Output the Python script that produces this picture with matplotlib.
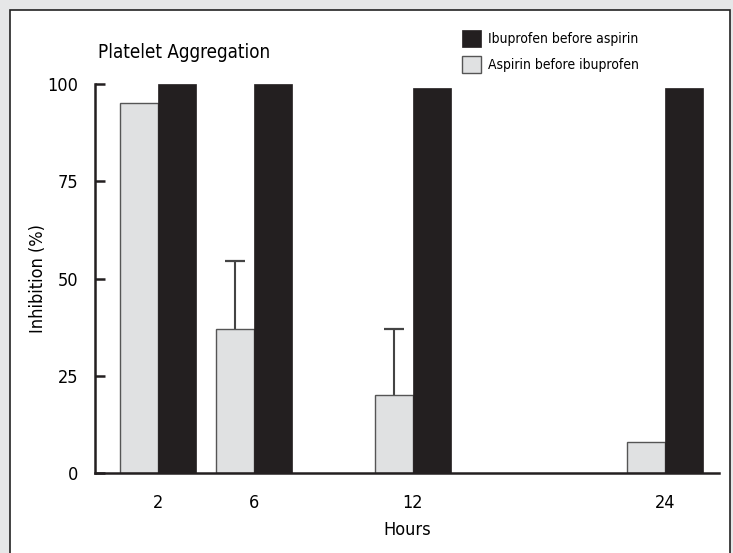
import matplotlib
matplotlib.use("Agg")
import matplotlib.pyplot as plt
from matplotlib.patches import Rectangle

plt.rcParams['font.family'] = ['DejaVu Sans']
plt.rcParams['font.stretch'] = 'condensed'

hours = ["2", "6", "12", "24"]
x_pos = [0, 1, 2.656, 5.281]
aspirin_first = [95, 37, 20, 8]
aspirin_err = [0, 17.5, 17, 0]
ibuprofen_first = [100, 100, 99, 99]
series_names = ["Ibuprofen before aspirin", "Aspirin before ibuprofen"]
y_ticks = [0, 25, 50, 75, 100]

fig = plt.figure(figsize=(7.33, 5.53), dpi=100)
fig.patch.set_facecolor('#e6e7e8')
fig.patches.append(Rectangle((10/733, -0.1), 0.982, 1.1 - 10/553,
                             transform=fig.transFigure, facecolor='white',
                             edgecolor='#222222', linewidth=1.2, zorder=-10))

ax = fig.add_axes([95/733, 1 - 473/553, (719 - 95)/733, (473 - 84)/553])
ax.set_facecolor('none')

w = 0.40
xa = [x - w/2 for x in x_pos]
xb = [x + w/2 for x in x_pos]
ax.bar(xa, aspirin_first, width=w, color='#e0e1e2', edgecolor='#555555',
       linewidth=1.0, zorder=2, label=series_names[1])
ax.bar(xb, ibuprofen_first, width=w, color='#231f20', edgecolor='#231f20',
       linewidth=0.5, zorder=2, label=series_names[0])
for x, v, e in zip(xa, aspirin_first, aspirin_err):
    if e > 0:
        ax.vlines(x, v, v + e, color='#444444', linewidth=1.5, zorder=1)
        ax.plot([x], [v + e], marker='_', markersize=15, markeredgewidth=1.6,
                color='#444444', zorder=1)

ax.set_xlim(-0.656, 5.844)
ax.set_ylim(0, 100)
ax.set_yticks(y_ticks)
ax.set_yticklabels([str(t) for t in y_ticks], fontsize=13)
ax.set_xticks(x_pos)
ax.set_xticklabels(hours, fontsize=13)
ax.tick_params(axis='y', direction='in', length=7, width=1.8, pad=12, color='#231f20')
ax.tick_params(axis='x', length=0, pad=15)
for s in ['top', 'right']:
    ax.spines[s].set_visible(False)
for s in ['left', 'bottom']:
    ax.spines[s].set_linewidth(1.8)
    ax.spines[s].set_color('#231f20')

ax.set_ylabel("Inhibition (%)", fontsize=13)
ax.yaxis.set_label_coords(-0.077, 0.5)
ax.set_xlabel("Hours", fontsize=13)
ax.xaxis.set_label_coords(0.5, -0.123)
fig.text(98/733, 1 - 52/553, "Platelet Aggregation", fontsize=13.5, va='center', ha='left')

h, l = ax.get_legend_handles_labels()
fig.legend([h[1], h[0]], [l[1], l[0]], loc='upper left',
           bbox_to_anchor=(459/733, 1 - 27/553), frameon=False, fontsize=10,
           handlelength=1.37, handleheight=1.5, handletextpad=0.55, labelspacing=0.65,
           borderpad=0.2, borderaxespad=0)

fig.savefig("out.png", dpi=100, facecolor=fig.get_facecolor())
